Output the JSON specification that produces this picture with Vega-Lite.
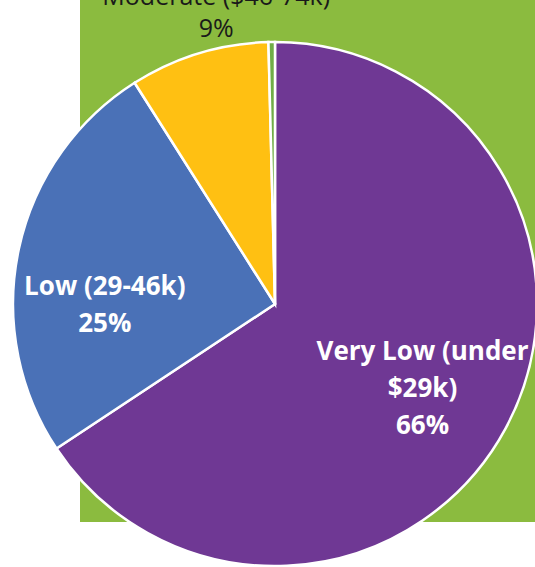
{
  "$schema": "https://vega.github.io/schema/vega-lite/v6.json",
  "width": 455,
  "height": 522,
  "autosize": {"type": "none"},
  "padding": {"left": 80, "top": 0, "right": 0, "bottom": 45},
  "background": "white",
  "view": {"fill": "#8BBB3F", "stroke": null},
  "data": {
    "values": [
      {"category": "Very Low (under $29k)", "label": "Very Low (under\n$29k)\n66%", "share": 65.7},
      {"category": "Low (29-46k)", "label": "Low (29-46k)\n25%", "share": 25.3},
      {"category": "Moderate ($46-74k)", "label": "Moderate ($46-74k)\n9%", "share": 8.6},
      {"category": "Above Moderate", "label": "", "share": 0.4}
    ]
  },
  "transform": [{"window": [{"op": "row_number", "as": "rank"}]}],
  "layer": [
    {
      "data": {"values": [{"panel": "background"}]},
      "mark": {"type": "rect", "color": "#8BBB3F"},
      "encoding": {}
    },
    {
      "mark": {"type": "arc", "outerRadius": 262, "x": 195, "y": 304, "stroke": "white", "strokeWidth": 2.5},
      "encoding": {
        "theta": {"field": "share", "type": "quantitative", "stack": true},
        "order": {"field": "rank", "type": "quantitative"},
        "color": {
          "field": "category",
          "type": "nominal",
          "scale": {
            "domain": ["Very Low (under $29k)", "Low (29-46k)", "Moderate ($46-74k)", "Above Moderate"],
            "range": ["#6F3894", "#4A71B7", "#FFC012", "#70AD47"]
          },
          "legend": null
        }
      }
    },
    {
      "mark": {"type": "text", "radius": 172, "x": 195, "y": 304, "dx": -4, "dy": -33, "font": "Open Sans", "fontWeight": "bold", "fontSize": 26, "lineHeight": 37, "lineBreak": "\n", "color": "white", "align": "center", "baseline": "middle"},
      "encoding": {
        "theta": {"field": "share", "type": "quantitative", "stack": true},
        "order": {"field": "rank", "type": "quantitative"},
        "text": {"condition": {"test": "datum.rank === 1", "field": "label", "type": "nominal"}, "value": ""}
      }
    },
    {
      "mark": {"type": "text", "radius": 172, "x": 195, "y": 304, "dx": -2, "dy": 19, "font": "Open Sans", "fontWeight": "bold", "fontSize": 26, "lineHeight": 37, "lineBreak": "\n", "color": "white", "align": "center", "baseline": "middle"},
      "encoding": {
        "theta": {"field": "share", "type": "quantitative", "stack": true},
        "order": {"field": "rank", "type": "quantitative"},
        "text": {"condition": {"test": "datum.rank === 2", "field": "label", "type": "nominal"}, "value": ""}
      }
    },
    {
      "mark": {"type": "text", "radius": 281, "x": 195, "y": 304, "dx": 23, "dy": -38, "font": "Open Sans", "fontSize": 25, "lineHeight": 32, "lineBreak": "\n", "color": "#1a1a1a", "align": "center", "baseline": "middle"},
      "encoding": {
        "theta": {"field": "share", "type": "quantitative", "stack": true},
        "order": {"field": "rank", "type": "quantitative"},
        "text": {"condition": {"test": "datum.rank === 3", "field": "label", "type": "nominal"}, "value": ""}
      }
    }
  ]
}
